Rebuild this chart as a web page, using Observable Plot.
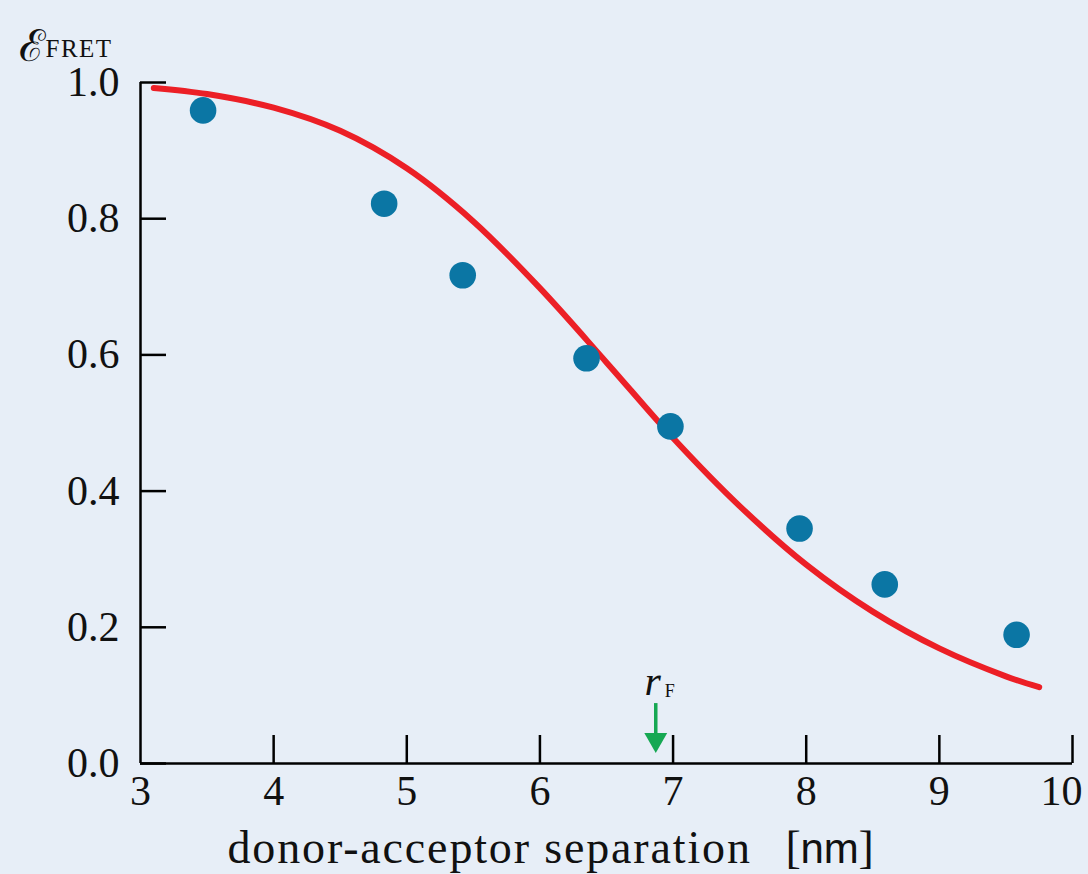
<!DOCTYPE html>
<html><head><meta charset="utf-8">
<script src="https://cdn.jsdelivr.net/npm/d3@7"></script>
<script src="https://cdn.jsdelivr.net/npm/@observablehq/plot@0.6"></script>
<style>
html,body{margin:0;padding:0;background:#e7eef7;}
#chart svg{display:block;background:#e7eef7;}
</style></head><body><div id="chart"></div>
<script>
// measured data points
const separation = [3.47, 4.83, 5.42, 6.35, 6.98, 7.95, 8.59, 9.58];
const efficiency = [0.959, 0.822, 0.717, 0.595, 0.495, 0.345, 0.263, 0.189];
// fitted curve
const curveSeparation = [3.1, 3.5, 4, 4.5, 5, 5.5, 6, 6.5, 7, 7.5, 8, 8.5, 9, 9.5, 9.75];
const curveEfficiency = [0.992, 0.983, 0.963, 0.929, 0.874, 0.796, 0.698, 0.589, 0.478, 0.378, 0.292, 0.223, 0.169, 0.128, 0.112];
const xTicks = [3, 4, 5, 6, 7, 8, 9, 10];
const yTicks = [0, 0.2, 0.4, 0.6, 0.8, 1.0];
const rF = [6.87];
const arrowFrom = [0.088];
const arrowTo = [0.035];
const xTitle = "donor-acceptor separation";
const ySub = "FRET";

const points = separation.map((x, i) => ({x, y: efficiency[i]}));
const curve = curveSeparation.map((x, i) => ({x, y: curveEfficiency[i]}));
const arrows = rF.map((x, i) => ({x, y1: arrowFrom[i], y2: arrowTo[i]}));

const serif = "Liberation Serif, DejaVu Serif, serif";
const sans = "Liberation Sans, DejaVu Sans, sans-serif";

const chart = Plot.plot({
  width: 1088,
  height: 874,
  marginLeft: 140,
  marginRight: 16,
  marginTop: 82,
  marginBottom: 111,
  style: {fontFamily: serif, fontSize: "42px", color: "#111", background: "#e7eef7"},
  x: {domain: [3, 10]},
  y: {domain: [0, 1]},
  marks: [
    // inward ticks
    Plot.axisX(xTicks.slice(1), {tickSize: -28, tickFormat: () => "", label: null, strokeWidth: 2.5, stroke: "#000"}),
    Plot.axisY(yTicks, {tickSize: -26, tickFormat: () => "", label: null, strokeWidth: 2.5, stroke: "#000"}),
    // tick labels
    Plot.axisX(xTicks.slice(0, -1), {tickSize: 0, tickPadding: 12, label: null, tickFormat: d => String(d), fill: "#111", fontFamily: serif}),
    Plot.axisX(xTicks.slice(-1), {tickSize: 0, tickPadding: 12, label: null, tickFormat: d => String(d), fill: "#111", fontFamily: serif, dx: -11}),
    Plot.axisY(yTicks, {tickSize: 0, tickPadding: 21, label: null, tickFormat: d3.format(".1f"), fill: "#111", fontFamily: serif}),
    Plot.ruleY([0], {stroke: "#000", strokeWidth: 2.5}),
    Plot.ruleX([3], {stroke: "#000", strokeWidth: 2.5}),
    Plot.line(curve, {x: "x", y: "y", curve: "catmull-rom", stroke: "#ec1f26", strokeWidth: 6}),
    Plot.dot(points, {x: "x", y: "y", r: 13.3, fill: "#0b76a4"}),
    // r_F arrow
    Plot.ruleX(arrows, {x: "x", y1: "y1", y2: "y2", stroke: "#16a853", strokeWidth: 3.5}),
    Plot.dot(arrows, {x: "x", y: "y2", symbol: "triangle", rotate: 180, r: 8.5, fill: "#16a853"}),
    Plot.text(arrows, {x: "x", y: "y1", text: () => "r", dy: -22, dx: -3, fontStyle: "italic", fontFamily: serif, fontSize: 42, fill: "#111"}),
    Plot.text(arrows, {x: "x", y: "y1", text: () => "F", dy: -12, dx: 14, fontFamily: serif, fontSize: 18, fill: "#111"}),
    // y label
    Plot.text(["ℰ"], {frameAnchor: "top-left", text: d => d, dx: -122, dy: -53, textAnchor: "start", fontFamily: serif, fontSize: 44, fill: "#111"}),
    Plot.text([ySub], {frameAnchor: "top-left", text: d => d, dx: -95, dy: -43, textAnchor: "start", fontFamily: serif, fontSize: 25, fill: "#111"}),
    // x title
    Plot.text([xTitle], {frameAnchor: "bottom", text: d => d, textAnchor: "start", lineAnchor: "bottom", dx: -379, dy: 99, fontFamily: serif, fontSize: 46, fill: "#111"}),
    Plot.text(["["], {frameAnchor: "bottom", text: d => d, textAnchor: "start", lineAnchor: "bottom", dx: 179, dy: 99, fontFamily: serif, fontSize: 46, fill: "#111"}),
    Plot.text(["nm"], {frameAnchor: "bottom", text: d => d, textAnchor: "start", lineAnchor: "bottom", dx: 194, dy: 99, fontFamily: sans, fontSize: 42, fill: "#111"}),
    Plot.text(["]"], {frameAnchor: "bottom", text: d => d, textAnchor: "start", lineAnchor: "bottom", dx: 252, dy: 99, fontFamily: serif, fontSize: 46, fill: "#111"})
  ]
});

const svg = d3.select(chart);
svg.selectAll("text").filter(function() { return this.textContent === xTitle; }).style("letter-spacing", "1.85px");
svg.selectAll("text").filter(function() { return this.textContent === ySub; }).style("letter-spacing", "1.5px");

document.getElementById("chart").appendChild(chart);
</script>
</body></html>
